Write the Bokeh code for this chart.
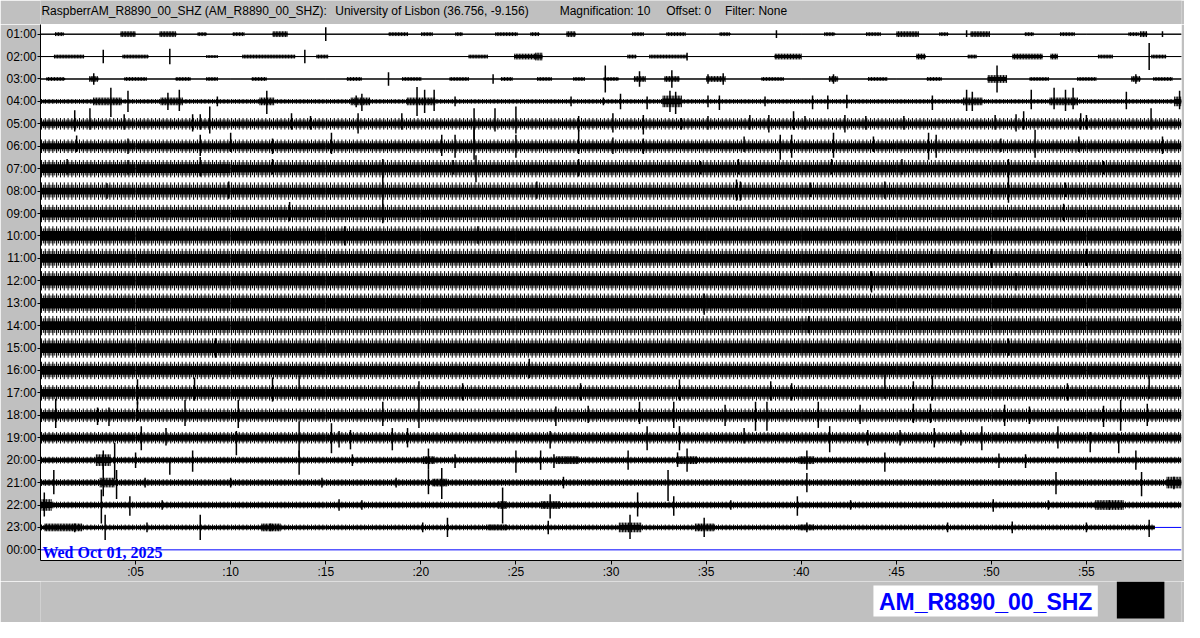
import numpy as np
from bokeh.plotting import figure
from bokeh.models import Range1d, FixedTicker
from bokeh.layouts import column
from bokeh.embed import file_html
from bokeh.resources import INLINE
from bokeh.core.properties import value

# ---------------- data ----------------
HOURS = ["01:00", "02:00", "03:00", "04:00", "05:00", "06:00", "07:00", "08:00",
         "09:00", "10:00", "11:00", "12:00", "13:00", "14:00", "15:00", "16:00",
         "17:00", "18:00", "19:00", "20:00", "21:00", "22:00", "23:00", "00:00"]
MINUTE_TICKS = [5, 10, 15, 20, 25, 30, 35, 40, 45, 50, 55]
MINUTE_LABELS = [":05", ":10", ":15", ":20", ":25", ":30", ":35", ":40", ":45", ":50", ":55"]
SEGMENT_MINUTES = [0, 5, 10, 15, 20, 25, 30, 35, 40, 45, 50, 55]
LAST_SAMPLE_MINUTE = 58.6   # the 23:00 trace stops here

# solid noise half-width per 5-minute block (counts), rows 01:00..23:00
CORE_01 = [0.5] * 12
CORE_02 = [0.5] * 12
CORE_03 = [0.5] * 12
CORE_04 = [1.5] * 12
CORE_05 = [2.5] * 12
CORE_06 = [3.0] * 12
CORE_07 = [4.5, 4.5, 4.0, 4.0, 4.0, 4.0, 4.0, 4.0, 4.0, 4.0, 4.0, 4.0]
CORE_08 = [3.5] * 12
CORE_09 = [4.0] * 12
CORE_10 = [5.0] * 12
CORE_11 = [4.5] * 12
CORE_12 = [5.0] * 12
CORE_13 = [5.5] * 12
CORE_14 = [4.5] * 12
CORE_15 = [5.0] * 12
CORE_16 = [4.5] * 12
CORE_17 = [4.0] * 12
CORE_18 = [3.5] * 12
CORE_19 = [3.0] * 12
CORE_20 = [2.0] * 12
CORE_21 = [2.0] * 12
CORE_22 = [2.0] * 12
CORE_23 = [1.5] * 12

# reach of the fine "hair" noise per 5-minute block (counts)
FRINGE_01 = [0] * 12
FRINGE_02 = [0] * 12
FRINGE_03 = [0] * 12
FRINGE_04 = [2.5] * 12
FRINGE_05 = [6] * 12
FRINGE_06 = [7] * 12
FRINGE_07 = [9] * 12
FRINGE_08 = [9] * 12
FRINGE_09 = [9] * 12
FRINGE_10 = [10] * 12
FRINGE_11 = [10] * 12
FRINGE_12 = [10] * 12
FRINGE_13 = [10] * 12
FRINGE_14 = [10] * 12
FRINGE_15 = [10] * 12
FRINGE_16 = [9] * 12
FRINGE_17 = [8] * 12
FRINGE_18 = [7] * 12
FRINGE_19 = [6] * 12
FRINGE_20 = [3.5] * 12
FRINGE_21 = [3.5] * 12
FRINGE_22 = [3.5] * 12
FRINGE_23 = [3] * 12

# spikes: (minute, up, down) in counts
SPIKES_01 = [(15.0, 7, 7), (38.7, 4, 4), (48.7, 4, 3), (59.0, 3, 3)]
SPIKES_02 = [(3.3, 7, 7), (6.8, 8, 8), (13.9, 7, 7), (34.0, 4, 4), (58.3, 14, 14)]
SPIKES_03 = [(2.8, 6, 6), (18.3, 7, 7), (23.8, 5, 5), (29.7, 14, 14), (31.5, 8, 8),
             (33.2, 9, 9), (35.1, 5, 5), (35.9, 6, 6), (41.7, 5, 5), (50.3, 14, 14), (57.6, 5, 5)]
SPIKES_04 = [(3.7, 14, 16), (4.6, 11, 11), (6.7, 9, 9), (7.3, 12, 10), (9.3, 5, 5), (11.9, 11, 13),
             (16.6, 6, 6), (16.9, 8, 10), (19.8, 15, 15), (20.2, 12, 12), (20.7, 12, 10), (21.8, 5, 5),
             (27.9, 5, 5), (29.6, 4, 4), (30.5, 8, 8), (31.9, 5, 8), (33.1, 11, 11), (33.4, 10, 13),
             (35.1, 6, 6), (35.7, 6, 9), (38.1, 5, 5), (40.6, 6, 8), (41.4, 6, 8), (42.4, 7, 7),
             (46.9, 6, 9), (48.7, 12, 10), (49.0, 10, 10), (52.1, 12, 8), (53.3, 14, 8), (53.9, 12, 10),
             (54.3, 14, 8), (57.1, 10, 8), (59.9, 11, 8)]
SPIKES_05 = [(1.8, 14, 8), (2.6, 16, 6), (4.4, 10, 6), (8.0, 10, 8), (8.4, 10, 6), (8.9, 18, 10),
             (13.2, 11, 6), (14.2, 8, 6), (16.7, 11, 10), (19.0, 11, 6), (22.8, 16, 22), (23.9, 16, 8),
             (25.0, 18, 10), (28.3, 8, 8), (30.1, 11, 9), (31.7, 9, 11), (33.7, 6, 6), (35.1, 8, 6),
             (37.3, 9, 6), (38.3, 9, 9), (39.6, 13, 6), (40.2, 8, 6), (42.3, 9, 9), (43.4, 8, 6),
             (45.4, 8, 6), (50.2, 9, 6), (51.3, 10, 8), (51.7, 13, 6), (54.7, 11, 6), (55.0, 9, 6),
             (58.4, 16, 6)]
SPIKES_06 = [(1.9, 11, 6), (4.6, 8, 8), (8.4, 12, 10), (10.0, 14, 6), (12.2, 8, 8), (15.3, 14, 8),
             (21.1, 12, 10), (21.8, 12, 12), (22.8, 20, 14), (25.0, 12, 12), (28.3, 17, 8),
             (30.1, 9, 8), (31.7, 8, 8), (37.0, 10, 6), (38.9, 12, 14), (39.5, 12, 12), (41.7, 14, 12),
             (43.8, 10, 6), (46.7, 14, 14), (47.1, 12, 12), (50.5, 8, 6), (52.3, 17, 12), (54.6, 10, 6),
             (59.0, 10, 8)]
SPIKES_07 = [(1.4, 10, 6), (4.6, 9, 6), (8.4, 12, 8), (12.2, 10, 6), (18.0, 10, 10), (21.7, 9, 6),
             (22.9, 14, 14), (28.3, 10, 8), (34.7, 8, 6), (36.7, 10, 6), (41.6, 10, 6), (45.3, 10, 6),
             (50.9, 10, 10), (55.9, 8, 6)]
SPIKES_08 = [(3.5, 8, 8), (9.9, 10, 8), (18.0, 16, 18), (26.1, 10, 8), (36.6, 12, 10), (36.8, 10, 10),
             (40.5, 9, 6), (44.4, 10, 8), (50.9, 14, 12), (53.9, 9, 6)]
SPIKES_09 = [(13.1, 12, 8), (18.0, 10, 10), (53.8, 10, 8)]
SPIKES_10 = [(16.0, 10, 10), (23.0, 10, 8)]
SPIKES_11 = [(50.0, 10, 10), (55.0, 10, 8)]
SPIKES_12 = [(43.7, 10, 12), (51.3, 8, 10)]
SPIKES_13 = [(34.9, 10, 12)]
SPIKES_14 = [(40.4, 10, 8)]
SPIKES_15 = [(9.2, 10, 10), (50.9, 10, 8)]
SPIKES_16 = [(25.7, 12, 8)]
SPIKES_17 = [(5.1, 14, 12), (8.1, 16, 8), (12.2, 16, 9), (13.6, 18, 8), (19.9, 12, 8), (22.2, 10, 8),
             (28.4, 10, 8), (33.6, 14, 8), (38.4, 12, 8), (39.5, 10, 8), (44.4, 19, 6), (45.9, 12, 8),
             (46.9, 18, 8), (54.0, 10, 8), (58.3, 18, 6)]
SPIKES_18 = [(0.8, 17, 13), (3.0, 8, 10), (3.6, 8, 11), (5.1, 14, 6), (7.6, 16, 11), (10.4, 16, 13),
             (18.0, 14, 11), (19.9, 17, 13), (27.1, 9, 11), (28.8, 10, 8), (31.5, 14, 9), (33.3, 14, 13),
             (36.0, 11, 11), (37.6, 14, 16), (38.2, 14, 16), (40.9, 14, 13), (43.1, 11, 9), (45.9, 12, 8),
             (46.8, 12, 8), (50.7, 11, 11), (52.0, 9, 9), (55.9, 10, 12), (56.8, 16, 16), (58.2, 12, 11)]
SPIKES_19 = [(5.3, 12, 13), (6.6, 10, 8), (10.3, 7, 18), (13.6, 17, 20), (15.3, 15, 16), (15.7, 7, 10),
             (16.3, 8, 12), (18.5, 10, 13), (19.3, 10, 10), (26.8, 7, 11), (31.9, 12, 13), (33.6, 12, 13),
             (37.0, 10, 6), (41.5, 12, 15), (43.5, 8, 8), (45.2, 8, 8), (47.0, 10, 10), (48.4, 8, 8),
             (49.5, 12, 13), (53.5, 12, 11), (55.2, 6, 15), (56.7, 4, 16)]
SPIKES_20 = [(3.3, 10, 10), (3.9, 18, 20), (5.0, 8, 8), (6.8, 2, 15), (8.0, 10, 12), (13.6, 10, 15),
             (16.4, 6, 6), (20.4, 12, 10), (21.8, 6, 8), (25.0, 10, 13), (26.3, 10, 10), (27.0, 6, 8),
             (30.9, 10, 10), (33.5, 8, 7), (34.0, 12, 12), (40.3, 10, 10), (44.4, 8, 12), (50.4, 7, 8),
             (51.8, 6, 8), (57.6, 10, 10)]
SPIKES_21 = [(0.7, 13, 12), (3.3, 23, 14), (4.0, 13, 17), (5.5, 5, 5), (10.0, 5, 5), (14.8, 5, 5),
             (18.7, 5, 5), (20.4, 13, 12), (21.1, 15, 17), (27.5, 6, 6), (33.0, 13, 19), (40.3, 10, 10),
             (53.4, 11, 12), (57.9, 11, 14), (59.6, 6, 7)]
SPIKES_22 = [(0.2, 13, 12), (3.2, 16, 19), (4.7, 9, 11), (6.4, 5, 5), (15.7, 6, 6), (16.9, 5, 5),
             (24.3, 18, 19), (26.8, 11, 14), (31.4, 13, 12), (33.3, 9, 11), (36.3, 5, 5), (39.8, 9, 11),
             (42.6, 5, 5), (50.1, 6, 7), (53.0, 5, 5), (56.2, 5, 5)]
SPIKES_23 = [(1.8, 4, 5), (3.4, 13, 13), (5.6, 5, 5), (8.4, 13, 13), (12.1, 4, 4), (20.1, 5, 5),
             (21.4, 10, 10), (26.7, 7, 7), (31.0, 13, 12), (34.9, 10, 10), (40.3, 5, 5), (47.7, 5, 5),
             (51.1, 6, 6), (55.0, 5, 5), (58.3, 8, 10)]

# bursts: (centre minute, duration minutes, half amplitude counts)
BURSTS_01 = [(1.0, 0.5, 2), (4.6, 0.8, 3), (6.7, 0.9, 3), (8.5, 0.5, 2), (10.4, 0.6, 2), (12.6, 0.8, 3),
             (18.8, 1.0, 2), (20.3, 0.6, 2), (22.0, 0.4, 2), (24.5, 1.2, 2), (26.0, 0.5, 2), (27.9, 0.5, 3),
             (31.4, 0.6, 2), (33.4, 1.0, 2), (36.0, 0.6, 2), (41.5, 0.6, 2), (43.8, 0.8, 2), (45.6, 1.2, 3),
             (47.5, 0.5, 2), (49.4, 1.0, 3), (52.0, 0.5, 2), (54.0, 0.8, 2), (57.5, 0.6, 2), (58.0, 0.4, 3)]
BURSTS_02 = [(1.5, 1.6, 2), (5.0, 1.4, 2), (9.0, 0.6, 1.5), (12.0, 2.8, 2), (14.8, 0.6, 2), (23.0, 1.0, 2),
             (25.5, 1.2, 3), (26.2, 0.4, 4), (31.1, 0.5, 2), (33.0, 2.0, 2), (39.3, 1.4, 3), (46.3, 0.5, 3),
             (49.0, 0.5, 2), (51.9, 1.6, 3), (53.3, 0.4, 3), (56.0, 0.8, 2), (58.8, 0.8, 2)]
BURSTS_03 = [(0.8, 1.0, 2), (2.8, 0.5, 3), (5.0, 1.2, 2), (7.5, 0.8, 2), (9.0, 0.6, 2), (11.5, 0.8, 2),
             (16.5, 0.8, 2), (19.5, 1.0, 2), (22.0, 1.0, 2), (24.5, 0.6, 2), (26.5, 0.8, 2), (28.3, 0.6, 2),
             (30.0, 0.8, 2), (31.5, 0.6, 3), (33.2, 0.8, 3), (35.5, 1.0, 3), (38.5, 1.2, 2), (41.7, 0.5, 3),
             (44.0, 1.0, 2), (47.0, 0.8, 2), (50.3, 1.0, 4), (52.5, 1.0, 2), (55.0, 1.0, 2), (57.6, 0.5, 3),
             (59.0, 1.0, 2)]
BURSTS_04 = [(3.5, 1.5, 4), (6.9, 1.2, 4), (11.9, 0.8, 4), (16.8, 1.0, 4), (20.0, 1.5, 4), (33.2, 1.0, 6),
             (49.0, 1.0, 4), (53.8, 1.5, 4), (59.8, 0.4, 5)]
BURSTS_20 = [(3.3, 0.8, 6), (20.4, 0.6, 4), (27.7, 1.2, 4), (34.0, 1.0, 4), (40.3, 0.8, 4)]
BURSTS_21 = [(3.5, 0.8, 5), (21.0, 0.8, 4), (59.6, 0.8, 6)]
BURSTS_22 = [(0.2, 0.8, 6), (24.3, 0.5, 4), (26.8, 1.0, 4), (56.2, 1.5, 5)]
BURSTS_23 = [(0.8, 1.2, 4), (1.8, 0.8, 4), (12.1, 1.0, 4), (24.0, 1.0, 3), (31.0, 1.2, 5), (34.9, 1.0, 4),
             (40.3, 0.8, 3)]

HEADER_TEXTS = ["RaspberrAM_R8890_00_SHZ (AM_R8890_00_SHZ):", "University of Lisbon (36.756, -9.156)",
                "Magnification: 10", "Offset: 0", "Filter: None"]
HEADER_MINUTES = [0.05, 15.5, 27.3, 32.9, 36.0]
DATE_TEXT = "Wed Oct 01, 2025"
STATION_CODE = "AM_R8890_00_SHZ"

CORES = [CORE_01, CORE_02, CORE_03, CORE_04, CORE_05, CORE_06, CORE_07, CORE_08, CORE_09, CORE_10,
         CORE_11, CORE_12, CORE_13, CORE_14, CORE_15, CORE_16, CORE_17, CORE_18, CORE_19, CORE_20,
         CORE_21, CORE_22, CORE_23]
FRINGES = [FRINGE_01, FRINGE_02, FRINGE_03, FRINGE_04, FRINGE_05, FRINGE_06, FRINGE_07, FRINGE_08,
           FRINGE_09, FRINGE_10, FRINGE_11, FRINGE_12, FRINGE_13, FRINGE_14, FRINGE_15, FRINGE_16,
           FRINGE_17, FRINGE_18, FRINGE_19, FRINGE_20, FRINGE_21, FRINGE_22, FRINGE_23]
SPIKES = [SPIKES_01, SPIKES_02, SPIKES_03, SPIKES_04, SPIKES_05, SPIKES_06, SPIKES_07, SPIKES_08,
          SPIKES_09, SPIKES_10, SPIKES_11, SPIKES_12, SPIKES_13, SPIKES_14, SPIKES_15, SPIKES_16,
          SPIKES_17, SPIKES_18, SPIKES_19, SPIKES_20, SPIKES_21, SPIKES_22, SPIKES_23]
BURSTS = {0: BURSTS_01, 1: BURSTS_02, 2: BURSTS_03, 3: BURSTS_04, 19: BURSTS_20, 20: BURSTS_21,
          21: BURSTS_22, 22: BURSTS_23}

COUNTS_PER_ROW = 23.17   # trace spacing in counts (magnification)
S = 1.0 / COUNTS_PER_ROW
GREY = "#C0C0C0"
W = 1184
BORDER_L, BORDER_R = 40, 3
HAIR_STEP = 0.1          # minutes between drawn hair strokes (rendering texture)


def hairs(xs, ys, x0, x1, yc, half, step, phase=0.5):
    """vertical strokes filling an envelope (rendering texture of the noise band)"""
    for x in np.arange(x0 + step * phase, x1, step):
        xs.extend([x, x, np.nan])
        ys.extend([yc + half, yc - half, np.nan])


def strip(height):
    f = figure(width=W, height=height, x_range=Range1d(0, 60), y_range=Range1d(height, 0),
               output_backend="svg", toolbar_location=None, x_axis_location=None, y_axis_location=None,
               min_border_left=BORDER_L, min_border_right=BORDER_R, min_border_top=0, min_border_bottom=0)
    f.border_fill_color = GREY
    f.background_fill_color = GREY
    f.outline_line_color = None
    f.grid.visible = False
    return f


# ---------------- header strip ----------------
head = strip(24)
head.text(x=HEADER_MINUTES, y=[10] * len(HEADER_TEXTS), text=HEADER_TEXTS,
          text_font=value("Liberation Sans"), text_font_size="12px", text_color="black",
          text_baseline="middle")

# ---------------- main helicorder ----------------
p = figure(width=W, height=557, x_range=Range1d(0, 60), y_range=Range1d(-0.475, 23.43),
           output_backend="svg", toolbar_location=None,
           min_border_left=BORDER_L, min_border_right=BORDER_R, min_border_top=0, min_border_bottom=17)
p.border_fill_color = GREY
p.background_fill_color = "white"
p.outline_line_color = None
p.grid.visible = False

row_y = [23 - i for i in range(24)]

core_l, core_r, core_b, core_t = [], [], [], []
hx_in, hy_in, hx_out, hy_out = [], [], [], []
base_x0, base_x1, base_y = [], [], []
for i in range(23):
    y = row_y[i]
    end = LAST_SAMPLE_MINUTE if i == 22 else 60
    base_x0.append(0); base_x1.append(end); base_y.append(y)
    for s, m0 in enumerate(SEGMENT_MINUTES):
        left = m0
        right = min(m0 + 5, end)
        if right <= left:
            continue
        c = CORES[i][s]
        core_l.append(left); core_r.append(right)
        core_b.append(y - c * S); core_t.append(y + c * S)
        f = FRINGES[i][s]
        if f > c:
            hairs(hx_in, hy_in, left, right, y, (c + 0.55 * (f - c)) * S, HAIR_STEP, 0.5)
            hairs(hx_out, hy_out, left, right, y, f * S, 2 * HAIR_STEP, 0.25)

p.line(x=hx_out, y=hy_out, line_color="black", line_width=1)
p.line(x=hx_in, y=hy_in, line_color="black", line_width=1)
p.quad(left=core_l, right=core_r, bottom=core_b, top=core_t, fill_color="black", line_color=None)
p.segment(x0=base_x0, y0=base_y, x1=base_x1, y1=base_y, line_color="black", line_width=1)

bx, by, bl, br, bb, bt = [], [], [], [], [], []
for i, bursts in BURSTS.items():
    y = row_y[i]
    for m, w, a in bursts:
        hairs(bx, by, m - w / 2, m + w / 2, y, a * S, HAIR_STEP * 0.8, 0.5)
        bl.append(m - w / 2); br.append(m + w / 2)
        bb.append(y - 0.5 * a * S); bt.append(y + 0.5 * a * S)
p.line(x=bx, y=by, line_color="black", line_width=1)
p.quad(left=bl, right=br, bottom=bb, top=bt, fill_color="black", line_color=None)

sx, sy0, sy1 = [], [], []
for i, spikes in enumerate(SPIKES):
    y = row_y[i]
    for m, up, dn in spikes:
        sx.append(m); sy0.append(y + up * S); sy1.append(y - dn * S)
p.segment(x0=sx, y0=sy0, x1=sx, y1=sy1, line_color="black", line_width=1.5)

# blue line for the part of the day not yet recorded
p.segment(x0=[LAST_SAMPLE_MINUTE, 0], y0=[row_y[22], row_y[23]], x1=[60, 60], y1=[row_y[22], row_y[23]],
          line_color="#0000FF", line_width=1)
p.text(x=[0.1], y=[row_y[23] - 0.13], text=[DATE_TEXT], text_font=value("Liberation Serif"),
       text_font_style="bold", text_font_size="16px", text_color="#0000FF", text_baseline="alphabetic")

p.yaxis.ticker = FixedTicker(ticks=row_y)
p.yaxis.major_label_overrides = {row_y[i]: HOURS[i] for i in range(24)}
p.xaxis.ticker = FixedTicker(ticks=MINUTE_TICKS)
p.xaxis.major_label_overrides = {m: l for m, l in zip(MINUTE_TICKS, MINUTE_LABELS)}
for ax in (p.xaxis, p.yaxis):
    ax.major_tick_in = 0
    ax.minor_tick_line_color = None
    ax.axis_line_color = "black"
    ax.major_tick_line_color = "black"
    ax.major_label_text_color = "black"
    ax.major_label_text_font = "Liberation Sans"
    ax.major_label_text_font_size = "12px"
p.yaxis.major_tick_out = 3
p.yaxis.major_label_standoff = 1
p.xaxis.major_tick_out = 4
p.xaxis.major_label_standoff = 0

# ---------------- footer strip ----------------
foot = strip(41)
foot.quad(left=[43.8], right=[55.6], top=[4], bottom=[35], fill_color="white", line_color=None)
foot.quad(left=[56.6], right=[59.1], top=[0], bottom=[37], fill_color="black", line_color=None)
foot.text(x=[49.7], y=[20], text=[STATION_CODE], text_font=value("Liberation Sans"),
          text_font_style="bold", text_font_size="23px", text_color="#0000FF",
          text_align="center", text_baseline="middle")

layout = column(head, p, foot, spacing=0)
open("out.html", "w").write(file_html(layout, INLINE))
